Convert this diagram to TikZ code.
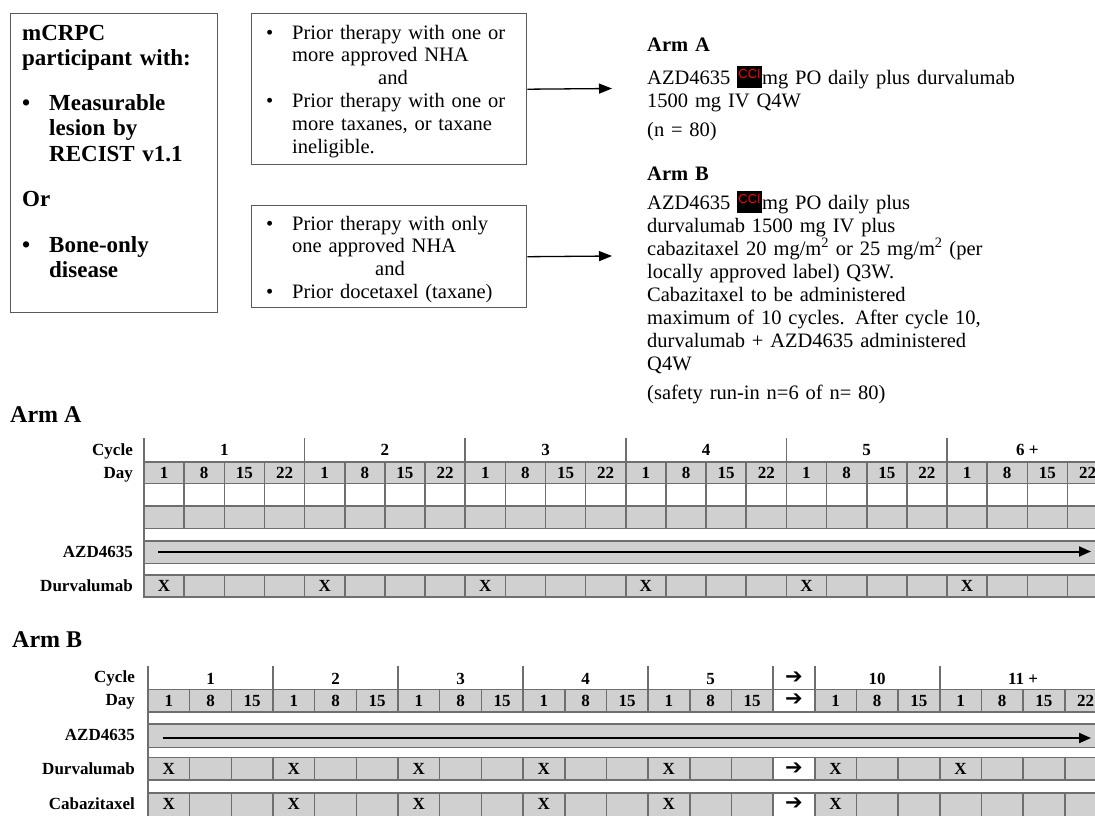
\documentclass[tikz,border=0pt]{standalone}
\usepackage{fontspec}
\setmainfont{Liberation Serif}
\newfontfamily\ccifont{Liberation Sans}
\newfontfamily\symfont{DejaVu Sans}
\usetikzlibrary{arrows.meta}
\definecolor{cellgrey}{RGB}{208,208,208}
\definecolor{tabline}{RGB}{110,110,110}
\definecolor{boxline}{RGB}{90,90,90}
\newcommand{\cci}{\makebox[25pt][l]{\rlap{\raisebox{-4pt}{\rule{25pt}{22pt}}}\raisebox{6pt}{\makebox[25pt][c]{\ccifont\mdseries\fontsize{13}{13}\selectfont\color{red}CCI}}}}
\newcommand{\hrarrow}{{\symfont\bfseries\fontsize{21}{21}\selectfont ➔}}
\newcommand{\bul}[1]{\makebox[#1][l]{•}}
\tikzset{
  box/.style={draw=boxline, line width=1.4pt, anchor=north west, inner sep=0pt},
  txt/.style={anchor=base west, inner sep=0pt, align=left, text width=#1},
  conn/.style={draw=black, line width=1.3pt, -{Triangle[length=13pt,width=10pt]}},
  gcell/.style={fill=cellgrey, draw=tabline, line width=1.6pt},
  wcell/.style={fill=white, draw=tabline, line width=1.6pt},
  tick/.style={draw=tabline, line width=1.6pt},
  tabtxt/.style={font=\bfseries\fontsize{17}{17}\selectfont, inner sep=0pt, text height=11.5pt, text depth=0pt},
  arrtxt/.style={inner sep=0pt},
  rowlab/.style={tabtxt, anchor=east},
  armhead/.style={font=\bfseries\fontsize{24}{24}\selectfont, anchor=base west, inner sep=0pt},
  dosearrow/.style={draw=black, line width=2pt, -{Triangle[length=12pt,width=10pt]}},
}
\begin{document}
\begin{tikzpicture}[x=1pt,y=-1pt]
\useasboundingbox (0,0) rectangle (1095,815);
% ---------------- top part ----------------
\node[box, minimum width=207pt, minimum height=299pt] (incl) at (10,13) {};
\node[txt=192pt, font=\bfseries\fontsize{23}{25.5}\selectfont] (incltext) at (22,40)
 {mCRPC\\participant with:\\[19pt]\bul{27pt}Measurable\\\hspace*{27pt}lesion by\\\hspace*{27pt}RECIST v1.1\\[20pt]Or\\[20pt]\bul{27pt}Bone-only\\\hspace*{27pt}disease};

\node[box, minimum width=275pt, minimum height=151pt] (box2) at (251,13) {};
\node[txt=255pt, font=\fontsize{20.5}{22.8}\selectfont] (box2text) at (266,39)
 {\bul{26pt}Prior therapy with one or\\\hspace*{26pt}more approved NHA\\\hspace*{112pt}and\\\bul{26pt}Prior therapy with one or\\\hspace*{26pt}more taxanes, or taxane\\\hspace*{26pt}ineligible.};

\node[box, minimum width=275pt, minimum height=102pt] (box3) at (251,205) {};
\node[txt=255pt, font=\fontsize{20.5}{22.8}\selectfont] (box3text) at (266,230)
 {\bul{26pt}Prior therapy with only\\\hspace*{26pt}one approved NHA\\\hspace*{109pt}and\\\bul{26pt}Prior docetaxel (taxane)};

\node[txt=440pt, font=\fontsize{20.5}{23}\selectfont] (armA) at (647,51)
 {{\bfseries Arm A}\\[10pt]AZD4635 \cci mg PO daily plus durvalumab\\1500 mg IV Q4W\\[6pt](n = 80)};
\node[txt=440pt, font=\fontsize{20.5}{23}\selectfont] (armB) at (647,180)
 {{\bfseries Arm B}\\[6pt]AZD4635 \cci mg PO daily plus\\durvalumab 1500 mg IV plus\\cabazitaxel 20 mg/m\textsuperscript{2} or 25 mg/m\textsuperscript{2} (per\\locally approved label) Q3W.\\Cabazitaxel to be administered\\maximum of 10 cycles. After cycle 10,\\durvalumab + AZD4635 administered\\Q4W\\[6pt](safety run-in n=6 of n= 80)};

\coordinate (tipA) at (612,88.5);
\coordinate (tipB) at (612,256);
\draw[conn] (box2.east) -- (tipA);
\draw[conn] (box3.east) -- (tipB);

% ---------------- tables ----------------
\node[armhead] (armAhead) at (10,422) {Arm A};
\node[armhead] (armBhead) at (12,647) {Arm B};

\begin{scope}
\clip (0,0) rectangle (1095,815);
% ===== Arm A =====
\def\ax{144}\def\aw{40.15}
\foreach \c/\lab in {0/1,1/2,2/3,3/4,4/5,5/{6 +}}{
  \pgfmathsetmacro\xx{\ax+4*\c*\aw}
  \draw[tick] (\xx,438) -- (\xx,462);
  \node[tabtxt] (acyc\c) at (\xx+2*\aw,450) {\lab};
}
\foreach \c in {0,...,5}{
  \foreach \d/\lab in {0/1,1/8,2/15,3/22}{
    \pgfmathsetmacro\xx{\ax+(4*\c+\d)*\aw}
    \draw[gcell] (\xx,462) rectangle ++(\aw,21.5);
    \node[tabtxt] (aday\c\d) at (\xx+\aw/2,473) {\lab};
  }
}
\foreach \k in {0,...,23}{
  \pgfmathsetmacro\xx{\ax+\k*\aw}
  \draw[wcell] (\xx,483.5) rectangle ++(\aw,22.5);
  \draw[gcell] (\xx,506) rectangle ++(\aw,22.3);
}
\draw[wcell] (\ax,528.3) rectangle (1110,540.7);
\draw[gcell] (\ax,540.7) rectangle (1110,563.3);
\draw[wcell] (\ax,563.3) rectangle (1110,575);
\foreach \k in {0,...,23}{
  \pgfmathsetmacro\xx{\ax+\k*\aw}
  \draw[gcell] (\xx,575) rectangle ++(\aw,21.7);
}
\foreach \c in {0,...,5}{
  \pgfmathsetmacro\xx{\ax+4*\c*\aw}
  \node[tabtxt] (adurx\c) at (\xx+\aw/2,586) {X};
}
\node[rowlab] (acycle) at (133,450) {Cycle};
\node[rowlab] (aday) at (133,473) {Day};
\node[rowlab] (aazd) at (133,552) {AZD4635};
\node[rowlab] (adurv) at (133,586) {Durvalumab};
\coordinate (aS) at (158,551.5);
\coordinate (aE) at (1091,551.5);
\draw[dosearrow] (aS) -- (aE);

% ===== Arm B =====
\def\bx{148}\def\bw{41.67}
\foreach \k in {0,3,6,9,12,15,16,19}{
  \pgfmathsetmacro\xx{\bx+\k*\bw}
  \draw[tick] (\xx,666) -- (\xx,689.3);
}
\foreach \lab/\col [count=\n] in {1/1.5,2/4.5,3/7.5,4/10.5,5/13.5,10/17.5,{11 +}/21}{
  \node[tabtxt] (bcyc\n) at (\bx+\col*\bw,679) {\lab};
}
\node[arrtxt] (bcycarr) at (\bx+15.5*\bw,678) {\hrarrow};
\foreach \k/\lab in {0/1,1/8,2/15,3/1,4/8,5/15,6/1,7/8,8/15,9/1,10/8,11/15,12/1,13/8,14/15,16/1,17/8,18/15,19/1,20/8,21/15,22/22}{
  \pgfmathsetmacro\xx{\bx+\k*\bw}
  \draw[gcell] (\xx,689.3) rectangle ++(\bw,22.4);
  \node[tabtxt] (bday\k) at (\xx+\bw/2,700.5) {\lab};
  \draw[gcell] (\xx,757.3) rectangle ++(\bw,22.7);
  \draw[gcell] (\xx,792.7) rectangle ++(\bw,23.8);
}
\pgfmathsetmacro\xa{\bx+15*\bw}
\draw[wcell] (\xa,689.3) rectangle ++(\bw,22.4);
\node[arrtxt] (bdayarr) at (\xa+\bw/2,700) {\hrarrow};
\draw[wcell] (\bx,711.7) rectangle (1110,724);
\draw[gcell] (\bx,724) rectangle (1110,747.3);
\draw[wcell] (\bx,747.3) rectangle (1110,757.3);
\draw[wcell] (\bx,780) rectangle (1110,792.7);
\draw[wcell] (\xa,757.3) rectangle ++(\bw,22.7);
\draw[wcell] (\xa,792.7) rectangle ++(\bw,23.8);
\node[arrtxt] (bdurarr) at (\xa+\bw/2,768.3) {\hrarrow};
\node[arrtxt] (bcabarr) at (\xa+\bw/2,803.5) {\hrarrow};
\foreach \k in {0,3,6,9,12,16,19}{
  \node[tabtxt] (bdurx\k) at (\bx+\k*\bw+\bw/2,768.6) {X};
}
\foreach \k in {0,3,6,9,12,16}{
  \node[tabtxt] (bcabx\k) at (\bx+\k*\bw+\bw/2,804) {X};
}
\node[rowlab] (bcycle) at (135,677) {Cycle};
\node[rowlab] (bday) at (135,700) {Day};
\node[rowlab] (bazd) at (135,735) {AZD4635};
\node[rowlab] (bdurv) at (135,768.6) {Durvalumab};
\node[rowlab] (bcab) at (135,804) {Cabazitaxel};
\coordinate (bS) at (163,738);
\coordinate (bE) at (1091,738);
\draw[dosearrow] (bS) -- (bE);
\end{scope}
\end{tikzpicture}
\end{document}
